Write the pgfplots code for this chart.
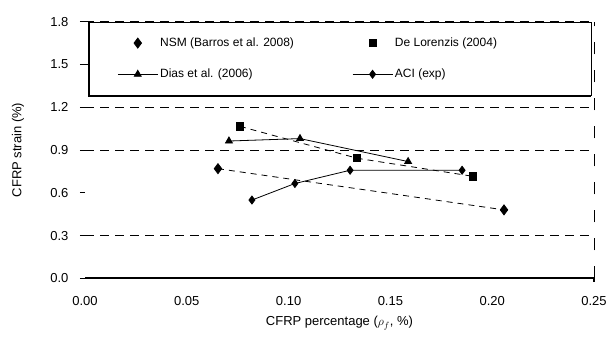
\documentclass[border=0pt]{standalone}
\usepackage{fontspec}
\setmainfont{Liberation Sans}
\usepackage{pgfplots}
\pgfplotsset{compat=1.18}
\begin{document}
\begin{tikzpicture}
\begin{axis}[
  scale only axis, width=509pt, height=256.6pt,
  xmin=0, xmax=0.25, ymin=0, ymax=1.8,
  clip=false,
  font=\fontsize{13}{15}\selectfont,
  xtick={0,0.05,0.10,0.15,0.20,0.25},
  xticklabels={0.00,0.05,0.10,0.15,0.20,0.25},
  ytick={0,0.3,0.9,1.2,1.5,1.8},
  yticklabels={0.0,0.3,0.9,1.2,1.5,1.8},
  extra y ticks={0.6}, extra y tick labels={0.6},
  extra y tick style={grid=none},
  ymajorgrids,
  grid style={black, line width=0.7pt, dash pattern=on 9pt off 6pt},
  axis line style={draw=none},
  tick align=outside, ytick pos=left, xtick pos=bottom,
  xtick style={draw=none}, ytick style={black, line width=0.8pt},
  major tick length=5pt,
  xticklabel style={yshift=-10pt},
  yticklabel style={xshift=-8pt},
  every axis x label/.style={at={(axis description cs:0.5,-0.175)}, anchor=center},
  every axis y label/.style={at={(axis description cs:-0.1316,0.5)}, rotate=90, anchor=center},
  xlabel={CFRP percentage ($\rho_f$, \%)},
  ylabel={CFRP strain (\%)},
  legend columns=2,
  legend image code/.code={\draw[mark repeat=2,mark phase=2,#1] plot coordinates {(0pt,0pt)(20pt,0pt)(40pt,0pt)};},
  legend style={name=leg, at={(axis description cs:0.008,1)}, anchor=north west,
    draw=black, line width=0.6pt, fill=white, inner xsep=28pt, inner ysep=14pt,
    font=\fontsize{12}{14}\selectfont, row sep=17pt, cells={anchor=west}},
]
\coordinate (O) at (rel axis cs:0,0);
\coordinate (T) at (rel axis cs:1,1);
\addplot[black, line width=0.8pt, dash pattern=on 6pt off 5pt, mark=diamond*, mark size=5pt, mark options={solid}, legend image post style={only marks}]
  coordinates {(0.0653,0.769) (0.2058,0.480)};
\addlegendentry{\makebox[190pt][l]{NSM (Barros et al. 2008)}}
\addplot[black, line width=0.8pt, dash pattern=on 6pt off 5pt, mark=square*, mark size=3.6pt, mark options={solid}, legend image post style={only marks}]
  coordinates {(0.0761,1.066) (0.1337,0.842) (0.1907,0.715)};
\addlegendentry{\makebox[166pt][l]{De Lorenzis (2004)}}
\addplot[black, line width=0.8pt, mark=triangle*, mark size=4pt, mark options={solid}]
  coordinates {(0.0707,0.963) (0.1056,0.980) (0.1587,0.819)};
\addlegendentry{Dias et al. (2006)}
\addplot[black, line width=0.8pt, mark=diamond*, mark size=4pt, mark options={solid}]
  coordinates {(0.0820,0.549) (0.1031,0.665) (0.1302,0.758) (0.1852,0.758)};
\addlegendentry{ACI (exp)}
\draw[black, line width=2pt] (rel axis cs:0,0) -- (rel axis cs:1,0);
\draw[black, line width=0.8pt, dash pattern=on 12pt off 16pt] (rel axis cs:1,0) -- (rel axis cs:1,1);
\draw[black, line width=1.2pt] (rel axis cs:1,0) -- ++(0pt,-4pt);
\end{axis}
\draw[black, line width=2pt] (leg.north west) -- (leg.south west) -- (leg.south east);
\pgfresetboundingbox
\path ([shift={(-85pt,-65pt)}]O) rectangle ([shift={(20pt,21.7pt)}]T);
\end{tikzpicture}
\end{document}
